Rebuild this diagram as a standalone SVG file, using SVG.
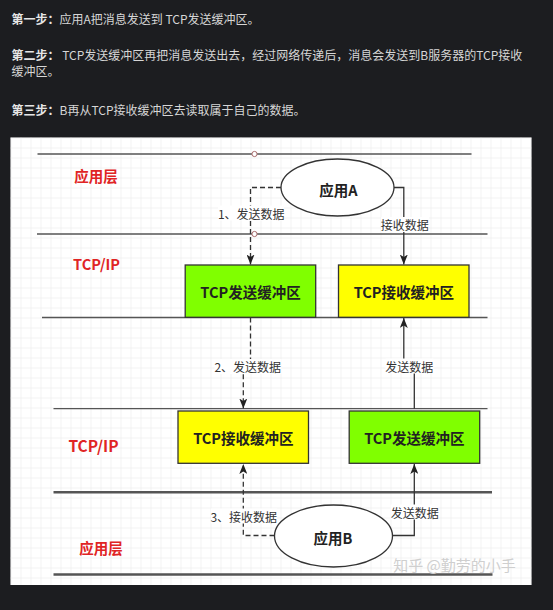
<svg xmlns="http://www.w3.org/2000/svg" width="553" height="610" viewBox="0 0 553 610">
<style>
.intro{font-family:"Noto Sans CJK SC","Liberation Sans",sans-serif;font-size:12px;fill:#d6d6d6}
.intro .b{font-weight:bold;fill:#e6e6e6}
.layer{font-family:"Noto Sans CJK SC","Liberation Sans",sans-serif;font-weight:bold;fill:#e02424;text-anchor:middle;dominant-baseline:central}
.sep{stroke:#555;stroke-width:1.3;fill:none}
.sep2{stroke:#555;stroke-width:2.6;fill:none}
.box{stroke:#333;stroke-width:1.3}
.green{fill:#80ff00}
.yellow{fill:#ffff00}
.ell{fill:#fff;stroke:#333;stroke-width:1.3}
.ntext{font-family:"Noto Sans CJK SC","Liberation Sans",sans-serif;font-weight:bold;font-size:14.5px;fill:#222;text-anchor:middle;dominant-baseline:central}
.edge{fill:none;stroke:#333;stroke-width:1.3}
.dash{stroke-dasharray:5 3}
.lbl{font-family:"Noto Sans CJK SC","Liberation Sans",sans-serif;font-size:12px;fill:#333;text-anchor:middle;dominant-baseline:central}
.lblbg{fill:#fff}
.wm{font-family:"Noto Sans CJK SC","Liberation Sans",sans-serif;font-size:15px;fill:#cfcfcf;text-anchor:middle;dominant-baseline:central}
</style>
<defs>
<pattern id="grid" x="10.5" y="137.5" width="10" height="10" patternUnits="userSpaceOnUse">
<path d="M10 0H0V10" fill="none" stroke="#e8e8e8" stroke-width="1"/>
</pattern>
<marker id="arr" viewBox="0 0 10 8" refX="10" refY="4" markerWidth="10" markerHeight="8" markerUnits="userSpaceOnUse" orient="auto">
<path d="M0,0L10,4L0,8L2.5,4z" fill="#222"/>
</marker>
</defs>
<rect width="553" height="610" fill="#1c1d20"/>
<g id="intro">
<text class="intro" x="11.5" y="23.5"><tspan class="b">第一步：</tspan>应用A把消息发送到 TCP发送缓冲区。</text>
<text class="intro" x="11.5" y="59.5"><tspan class="b">第二步：</tspan> TCP发送缓冲区再把消息发送出去，经过网络传递后，消息会发送到B服务器的TCP接收</text>
<text class="intro" x="11.5" y="76">缓冲区。</text>
<text class="intro" x="11.5" y="114.5"><tspan class="b">第三步：</tspan>B再从TCP接收缓冲区去读取属于自己的数据。</text>
</g>
<g id="panel">
<rect x="10.5" y="137.5" width="521" height="447.5" fill="#fff"/>
<rect x="10.5" y="137.5" width="521" height="447.5" fill="url(#grid)"/>
</g>
<g id="separators">
<line class="sep" x1="37.5" y1="154" x2="471.5" y2="154"/>
<line class="sep" x1="37" y1="234" x2="487.5" y2="234"/>
<line class="sep" x1="42" y1="317.5" x2="487.5" y2="317.5"/>
<line class="sep" x1="53.5" y1="408.7" x2="487.5" y2="408.7"/>
<line class="sep2" x1="53.5" y1="492.3" x2="492" y2="492.3"/>
<line class="sep2" x1="53.5" y1="574.5" x2="492.5" y2="574.5"/>
<circle cx="254.5" cy="154" r="2.6" fill="#fff" stroke="#a86a6a" stroke-width="1"/>
<circle cx="254.5" cy="234" r="2.6" fill="#fff" stroke="#a86a6a" stroke-width="1"/>
</g>
<g id="layer-labels">
<text class="layer" x="96" y="175.7" font-size="14.5">应用层</text>
<text class="layer" x="96.5" y="263.3" font-size="14.5">TCP/IP</text>
<text class="layer" x="93.5" y="445" font-size="15.5">TCP/IP</text>
<text class="layer" x="101" y="547.7" font-size="14.5">应用层</text>
</g>
<g id="connectors">
<path class="edge dash" d="M281,187.5H250.5V264.5" marker-end="url(#arr)"/>
<path class="edge" d="M394,187.5H403.8V264.5" marker-end="url(#arr)"/>
<path class="edge dash" d="M250.5,317.5V366.7H243.3V408.5" marker-end="url(#arr)"/>
<path class="edge" d="M414.3,408.7V366H403.8V318" marker-end="url(#arr)"/>
<path class="edge dash" d="M274.5,535.5H243.3V464" marker-end="url(#arr)"/>
<path class="edge" d="M392.5,535.5H414.3V464" marker-end="url(#arr)"/>
<rect class="lblbg" x="218" y="205.5" width="66" height="15"/>
<text class="lbl" x="251.3" y="213">1、发送数据</text>
<rect class="lblbg" x="381" y="217" width="48" height="15"/>
<text class="lbl" x="404.8" y="224.3">接收数据</text>
<rect class="lblbg" x="214.5" y="359" width="67" height="15"/>
<text class="lbl" x="247.8" y="366.7">2、发送数据</text>
<rect class="lblbg" x="385.5" y="358.5" width="48" height="15"/>
<text class="lbl" x="409.2" y="366">发送数据</text>
<rect class="lblbg" x="211" y="508.5" width="66" height="15"/>
<text class="lbl" x="243.8" y="516">3、接收数据</text>
<rect class="lblbg" x="390.5" y="504.5" width="48" height="15"/>
<text class="lbl" x="414.7" y="512">发送数据</text>
</g>
<g id="appA">
<ellipse class="ell" cx="337.5" cy="187.5" rx="56.5" ry="28.5"/>
<text class="ntext" x="338.5" y="189" font-size="15">应用A</text>
</g>
<g id="sendA">
<rect class="box green" x="185.2" y="265" width="130.5" height="52.3"/>
<text class="ntext" x="250.5" y="291.2">TCP发送缓冲区</text>
</g>
<g id="recvA">
<rect class="box yellow" x="338.5" y="265" width="130.5" height="52.3"/>
<text class="ntext" x="403.8" y="291.2">TCP接收缓冲区</text>
</g>
<g id="recvB">
<rect class="box yellow" x="178" y="411" width="130.5" height="52.3"/>
<text class="ntext" x="243.3" y="437.2">TCP接收缓冲区</text>
</g>
<g id="sendB">
<rect class="box green" x="349.2" y="411" width="130.5" height="52.3"/>
<text class="ntext" x="414.4" y="437.2">TCP发送缓冲区</text>
</g>
<g id="appB">
<ellipse class="ell" cx="333.5" cy="536" rx="59" ry="31"/>
<text class="ntext" x="333" y="537" font-size="15">应用B</text>
</g>
<text class="wm" x="454.5" y="564.3">知乎 @勤劳的小手</text>
</svg>
